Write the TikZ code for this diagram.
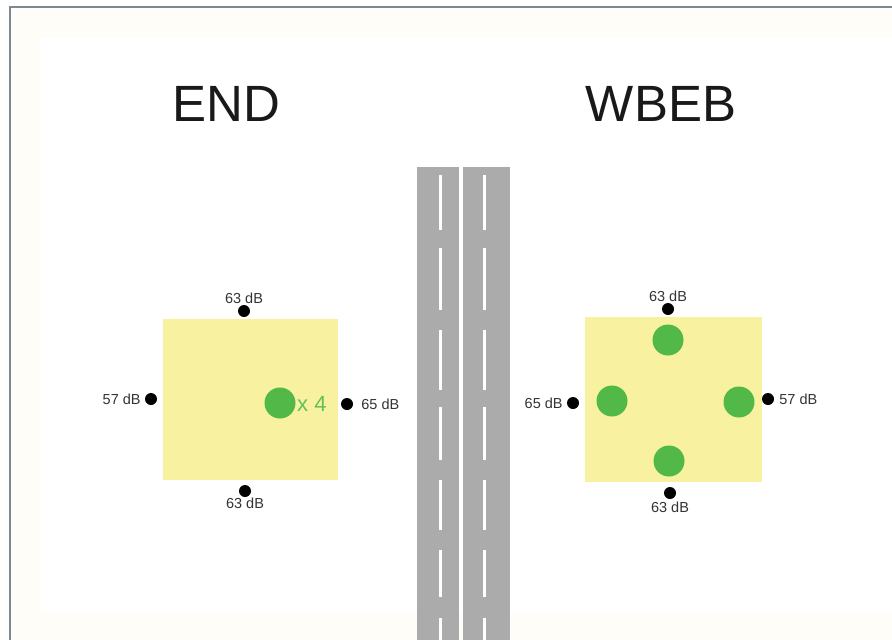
\documentclass[tikz,border=0pt]{standalone}
\usepackage{fontspec}
\setmainfont{Liberation Sans}
\usetikzlibrary{positioning}
\begin{document}
\begin{tikzpicture}[x=1pt,y=-1pt,
  dot/.style={circle,fill=black,inner sep=0pt,minimum size=12pt},
  tree/.style={circle,fill=treegreen,inner sep=0pt,minimum size=31pt},
  db/.style={font=\fontsize{14.5}{16}\selectfont,text=black!80,inner sep=1pt},
  title/.style={font=\fontsize{51}{56}\selectfont,text=black!90},
  house/.style={fill=houseyellow,draw=none},
  road/.style={fill=roadgray,draw=none},
  lane/.style={fill=white,draw=none}]
\definecolor{treegreen}{HTML}{52B948}
\definecolor{houseyellow}{HTML}{F8F2A0}
\definecolor{roadgray}{HTML}{ABABAB}
\definecolor{framegray}{HTML}{7C8894}
\definecolor{cream}{HTML}{FEFDF8}
\useasboundingbox (0,0) rectangle (892,640);
\fill[white] (0,0) rectangle (892,640);
% frame
\fill[cream] (10,7) rectangle (892,640);
\fill[white] (40,38) rectangle (892,613);
\draw[framegray,line width=1.5pt] (10,640) -- (10,7) -- (892,7);
% titles
\node[title] (tEND) at (226,104) {END};
\node[title] (tWBEB) at (661,104) {WBEB};
% roads
\fill[road] (417,167) rectangle (459,640);
\fill[road] (463,167) rectangle (510,640);
\foreach \a/\b in {175/230,248/310,330/390,407/460,480/530,550/597,618/640}{
  \fill[lane] (438.5,\a) rectangle (442,\b);
  \fill[lane] (482.5,\a) rectangle (486,\b);
}
% left house (END)
\fill[house] (163,319) rectangle (338,480);
\node[tree] (e1) at (280,403) {};
\node[font=\fontsize{22}{24}\selectfont,text=treegreen!90!white,anchor=west,inner sep=0pt] (ex) at (297,404) {x 4};
\node[dot] (et) at (244,311) {};
\node[dot] (eb) at (245,491) {};
\node[dot] (el) at (151,399) {};
\node[dot] (er) at (347,404) {};
\node[db,above=0pt of et] (etl) {63 dB};
\node[db,below=0pt of eb] (ebl) {63 dB};
\node[db,left=3pt of el] (ell) {57 dB};
\node[db,right=7pt of er] (erl) {65 dB};
% right house (WBEB)
\fill[house] (585,317) rectangle (762,482);
\node[tree] (w1) at (668,340) {};
\node[tree] (w2) at (612,401) {};
\node[tree] (w3) at (739,402) {};
\node[tree] (w4) at (669,461) {};
\node[dot] (wt) at (668,309) {};
\node[dot] (wb) at (670,493) {};
\node[dot] (wl) at (573,403) {};
\node[dot] (wr) at (768,399) {};
\node[db,above=0pt of wt] (wtl) {63 dB};
\node[db,below=2pt of wb] (wbl) {63 dB};
\node[db,left=3pt of wl] (wll) {65 dB};
\node[db,right=4pt of wr] (wrl) {57 dB};
\end{tikzpicture}
\end{document}
